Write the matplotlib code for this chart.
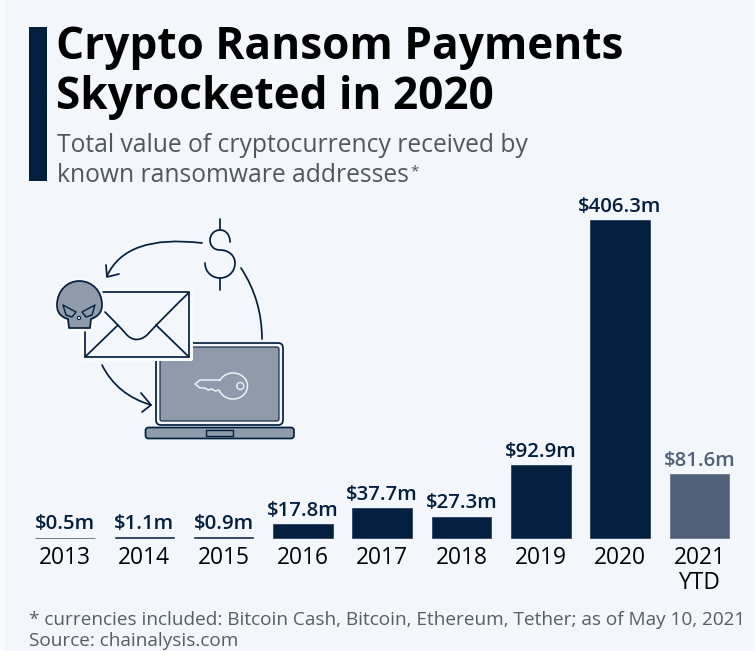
import matplotlib
matplotlib.use('Agg')
import matplotlib.pyplot as plt
import numpy as np
from matplotlib.patches import Rectangle, FancyBboxPatch, Polygon, Circle, PathPatch
from matplotlib.path import Path

years = ['2013', '2014', '2015', '2016', '2017', '2018', '2019', '2020', '2021\nYTD']
values = [0.5, 1.1, 0.9, 17.8, 37.7, 27.3, 92.9, 406.3, 81.6]
labels = ['$0.5m', '$1.1m', '$0.9m', '$17.8m', '$37.7m', '$27.3m', '$92.9m', '$406.3m', '$81.6m']
colors = ['#031f3f'] * 8 + ['#4f6078']
label_colors = ['#031f3f'] * 8 + ['#4f6078']

W, H = 755, 651
BG = '#f3f7fb'
NAVY = '#031f3f'
ICON = '#8f9bab'
KEY = '#eef2f6'
plt.rcParams['font.family'] = ['Open Sans', 'DejaVu Sans']
plt.rcParams['text.parse_math'] = False
fig = plt.figure(figsize=(W / 100, H / 100), dpi=100, facecolor=BG)

# overlay in pixel coordinates (decoration: strip, text block, illustration)
bg = fig.add_axes([0, 0, 1, 1], zorder=0)
bg.set_xlim(0, W); bg.set_ylim(H, 0); bg.axis('off')
bg.add_patch(Rectangle((0, 0), 5, H, fc='#f9fbfc', ec='none'))
bg.add_patch(Rectangle((29, 27), 17.5, 154, fc=NAVY, ec='none'))
bg.text(56, 48, 'Crypto Ransom Payments', fontsize=31.8, fontweight='bold', color='#000000', va='center', ha='left')
bg.text(56, 97, 'Skyrocketed in 2020', fontsize=31.8, fontweight='bold', color='#000000', va='center', ha='left')
bg.text(57, 145, 'Total value of cryptocurrency received by', fontsize=17.7, color='#50565e', va='center', ha='left')
bg.text(57, 175, 'known ransomware addresses', fontsize=17.7, color='#50565e', va='center', ha='left')
bg.text(410, 172, '*', fontsize=11, color='#50565e', va='center', ha='left')
bg.text(29, 620, '* currencies included: Bitcoin Cash, Bitcoin, Ethereum, Tether; as of May 10, 2021', fontsize=13.7, color='#555d66', va='center', ha='left')
bg.text(29, 641, 'Source: chainalysis.com', fontsize=13.7, color='#555d66', va='center', ha='left')

lw = 1.25
def curve3(pts):
    codes = [Path.MOVETO] + [Path.CURVE3] * (len(pts) - 1)
    bg.add_patch(PathPatch(Path(pts, codes), fc='none', ec=NAVY, lw=lw, capstyle='round'))
def curve4(pts):
    codes = [Path.MOVETO] + [Path.CURVE4] * (len(pts) - 1)
    bg.add_patch(PathPatch(Path(pts, codes), fc='none', ec=NAVY, lw=lw, capstyle='round'))
def line(xs, ys):
    bg.plot(xs, ys, color=NAVY, lw=lw, solid_capstyle='round', solid_joinstyle='round')

# arrows
curve3([(202, 243), (126, 234), (107, 276)])
line([106, 107, 119], [265, 277, 274])
curve3([(241, 268), (262, 300), (262, 339)])
curve3([(102, 365), (117, 395), (151, 405)])
line([141, 151, 142], [393, 405, 412])
# dollar sign
line([220, 220], [219, 230]); line([220, 220], [278, 290])
curve4([(230, 242), (230, 235), (226, 230), (220, 230),
        (214, 230), (210, 235), (210, 240),
        (210, 246), (214, 250), (220, 250),
        (229, 250), (235, 256), (235, 263),
        (235, 272), (228, 278), (220, 278),
        (212, 278), (205, 272), (205, 263)])

# laptop
bg.add_patch(FancyBboxPatch((156, 343), 127, 82, boxstyle='round,pad=0,rounding_size=5', fc=BG, ec=NAVY, lw=lw))
bg.add_patch(FancyBboxPatch((160, 347), 119, 74, boxstyle='round,pad=0,rounding_size=2', fc=ICON, ec=NAVY, lw=0.8))
bg.add_patch(FancyBboxPatch((145.5, 427.5), 148.5, 11, boxstyle='round,pad=0,rounding_size=3', fc=ICON, ec=NAVY, lw=lw))
bg.add_patch(Rectangle((206, 430), 26.5, 6, fc=ICON, ec=NAVY, lw=1))
# key
th = np.radians(np.linspace(-155, 155, 60))
bg.plot(233 + 14.5 * np.cos(th), 386 + 13 * np.sin(th), color=KEY, lw=1.1)
bg.add_patch(Circle((240.3, 386), 3.5, fc='none', ec=KEY, lw=1))
bg.plot([220, 200, 195, 200, 205, 208, 212, 215, 219, 220],
        [380, 380, 384, 388, 388, 390, 389, 391, 390, 392], color=KEY, lw=1.1)

# envelope with pale halo
bg.add_patch(FancyBboxPatch((80, 288), 113, 73, boxstyle='round,pad=0,rounding_size=2', fc='#f9fbfd', ec='none'))
bg.add_patch(Rectangle((85, 292), 104, 65, fc=BG, ec='none'))
line([85, 85, 189, 189, 103], [332, 357, 357, 292, 292])
curve4([(189, 292.5), (175, 306), (160, 321), (147, 335),
         (140, 341), (133, 341), (127, 335),
         (120, 327), (112, 319), (105, 312)])
line([85, 118], [357, 325])
line([189, 156], [357, 325])

# skull
P = Path([(79.3, 281), (92, 281), (102, 291), (102, 305),
          (102, 313), (97, 317), (91, 319),
          (90, 328), (69, 328), (68, 319),
          (61, 317), (57, 313), (57, 305),
          (57, 291), (67, 281), (79.3, 281)],
         [Path.MOVETO] + [Path.CURVE4] * 6 + [Path.LINETO] * 3 + [Path.CURVE4] * 6)
bg.add_patch(PathPatch(P, fc='none', ec='#f9fbfd', lw=4.5, joinstyle='round', zorder=4))
bg.add_patch(PathPatch(P, fc=ICON, ec=NAVY, lw=lw, joinstyle='round', zorder=5))
bg.add_patch(Polygon([(63, 305), (76, 312), (72, 317), (66, 315)], fc=ICON, ec=NAVY, lw=1, joinstyle='round', zorder=6))
bg.add_patch(Polygon([(95, 305), (82, 312), (86, 317), (92, 315)], fc=ICON, ec=NAVY, lw=1, joinstyle='round', zorder=6))
bg.add_patch(Circle((79, 318), 1.6, fc=BG, ec=NAVY, lw=0.8, zorder=6))

# bars: 2013 centre at x=65, spacing 79.3 px, baseline y=538, 2020 top at y=220
step = 79.3
left = 65 - step / 2
bottom = 538
ax = fig.add_axes([left / W, (H - bottom) / H, step * 9 / W, 318 / H], zorder=1)
ax.patch.set_alpha(0)
x = np.arange(len(years))
ax.bar(x, values, width=59.5 / step, color=colors, edgecolor=colors, linewidth=0.4, clip_on=False)
ax.set_xlim(-0.5, 8.5)
ax.set_ylim(0, 406.3)
for s in ax.spines.values():
    s.set_visible(False)
ax.set_yticks([])
ax.set_xticks(x)
ax.set_xticklabels(years, fontsize=16.4, color='#000000', linespacing=1.04, va='top')
ax.tick_params(axis='x', length=0, pad=6)
for i, v in enumerate(values):
    ax.annotate(labels[i], (i, v), xytext=(0, 2.5), textcoords='offset points', ha='center', va='bottom',
                fontsize=14.7, fontweight='semibold', color=label_colors[i], annotation_clip=False)

fig.savefig('out.png', dpi=100, facecolor=BG)
